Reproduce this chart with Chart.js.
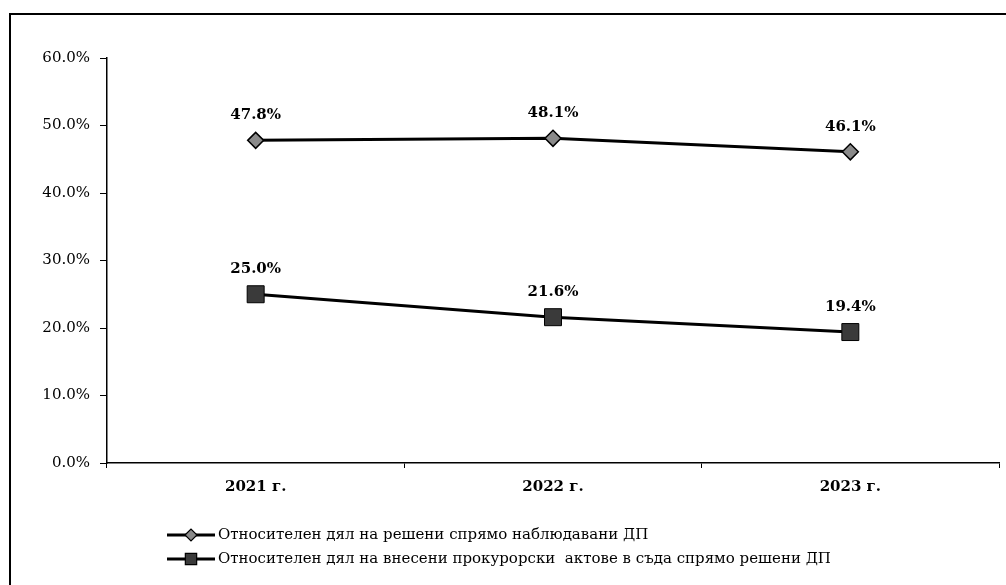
<!DOCTYPE html>
<html>
<head>
<meta charset="utf-8">
<script src="https://cdn.jsdelivr.net/npm/chart.js@4"></script>
<style>
  html, body { margin: 0; padding: 0; background: #fff; }
  #wrap { position: relative; width: 1006px; height: 585px; }
</style>
</head>
<body>
<div id="wrap"><canvas id="c" width="1006" height="585"></canvas></div>
<script>
const categories = ['2021 г.', '2022 г.', '2023 г.'];
const seriesResolvedShare = [47.8, 48.1, 46.1];
const seriesCourtActsShare = [25.0, 21.6, 19.4];
const seriesNames = [
  'Относителен дял на решени спрямо наблюдавани ДП',
  'Относителен дял на внесени прокурорски  актове в съда спрямо решени ДП'
];
const yMin = 0, yMax = 60, yStep = 10;

const FONT = "'DejaVu Serif', 'Liberation Serif', serif";

const frame = {
  id: 'frame',
  beforeDraw(chart) {
    const ctx = chart.ctx;
    ctx.save();
    ctx.fillStyle = '#fff';
    ctx.fillRect(0, 0, chart.width, chart.height);
    ctx.strokeStyle = '#000';
    ctx.lineWidth = 2;
    ctx.strokeRect(10, 14, 1100, 700);
    ctx.restore();
  }
};

const dataLabels = {
  id: 'dataLabels',
  afterDatasetsDraw(chart) {
    const ctx = chart.ctx;
    ctx.save();
    ctx.font = "bold 15px " + FONT;
    ctx.fillStyle = '#000';
    ctx.textAlign = 'center';
    ctx.textBaseline = 'middle';
    chart.data.datasets.forEach((ds, di) => {
      const meta = chart.getDatasetMeta(di);
      meta.data.forEach((pt, i) => {
        ctx.fillText(ds.data[i].toFixed(1) + '%', pt.x, pt.y - 25);
      });
    });
    ctx.restore();
  }
};

const customLegend = {
  id: 'customLegend',
  afterDraw(chart) {
    const ctx = chart.ctx;
    ctx.save();
    const rows = [535, 559];
    chart.data.datasets.forEach((ds, di) => {
      const y = rows[di];
      ctx.strokeStyle = '#000';
      ctx.lineWidth = 3;
      ctx.beginPath();
      ctx.moveTo(167, y);
      ctx.lineTo(215, y);
      ctx.stroke();
      ctx.fillStyle = ds.pointBackgroundColor;
      ctx.strokeStyle = '#000';
      ctx.lineWidth = 1.2;
      Chart.helpers.drawPoint(ctx, {
        pointStyle: ds.pointStyle,
        rotation: 0,
        radius: di === 0 ? 6 : 8,
        borderWidth: 1.2
      }, 191, y);
      ctx.fillStyle = '#000';
      ctx.font = "15px " + FONT;
      ctx.textAlign = 'left';
      ctx.textBaseline = 'middle';
      ctx.fillText(ds.label, 218, y);
    });
    ctx.restore();
  }
};

new Chart(document.getElementById('c'), {
  type: 'line',
  data: {
    labels: categories,
    datasets: [
      {
        label: seriesNames[0],
        data: seriesResolvedShare,
        borderColor: '#000',
        borderWidth: 3,
        pointStyle: 'rectRot',
        pointRadius: 8,
        pointHoverRadius: 8,
        pointBackgroundColor: '#8a8a8a',
        pointBorderColor: '#000',
        pointBorderWidth: 1.5,
        tension: 0
      },
      {
        label: seriesNames[1],
        data: seriesCourtActsShare,
        borderColor: '#000',
        borderWidth: 3,
        pointStyle: 'rect',
        pointRadius: 12,
        pointHoverRadius: 12,
        pointBackgroundColor: '#3a3a3a',
        pointBorderColor: '#000',
        pointBorderWidth: 1,
        tension: 0
      }
    ]
  },
  options: {
    responsive: false,
    animation: false,
    events: [],
    layout: { autoPadding: false, padding: { top: 58, right: 7, left: 0, bottom: 0 } },
    plugins: { legend: { display: false }, tooltip: { enabled: false } },
    scales: {
      x: {
        offset: true,
        afterFit(scale) { scale.height = 122; scale.paddingLeft = 0; scale.paddingRight = 0; },
        border: { display: true, color: '#000', width: 1.5 },
        grid: { offset: true, drawOnChartArea: false, tickLength: 5, tickColor: '#000', lineWidth: 1 },
        ticks: {
          color: '#000',
          padding: 10,
          font: { family: FONT, size: 15, weight: 'bold' }
        }
      },
      y: {
        min: yMin, max: yMax,
        afterFit(scale) { scale.width = 107; },
        border: { display: true, color: '#000', width: 1.5 },
        grid: { drawOnChartArea: false, tickLength: 7, tickColor: '#000', lineWidth: 1 },
        ticks: {
          stepSize: yStep,
          color: '#000',
          padding: 10,
          font: { family: FONT, size: 15 },
          callback: v => v.toFixed(1) + '%'
        }
      }
    }
  },
  plugins: [frame, dataLabels, customLegend]
});
</script>
</body>
</html>
